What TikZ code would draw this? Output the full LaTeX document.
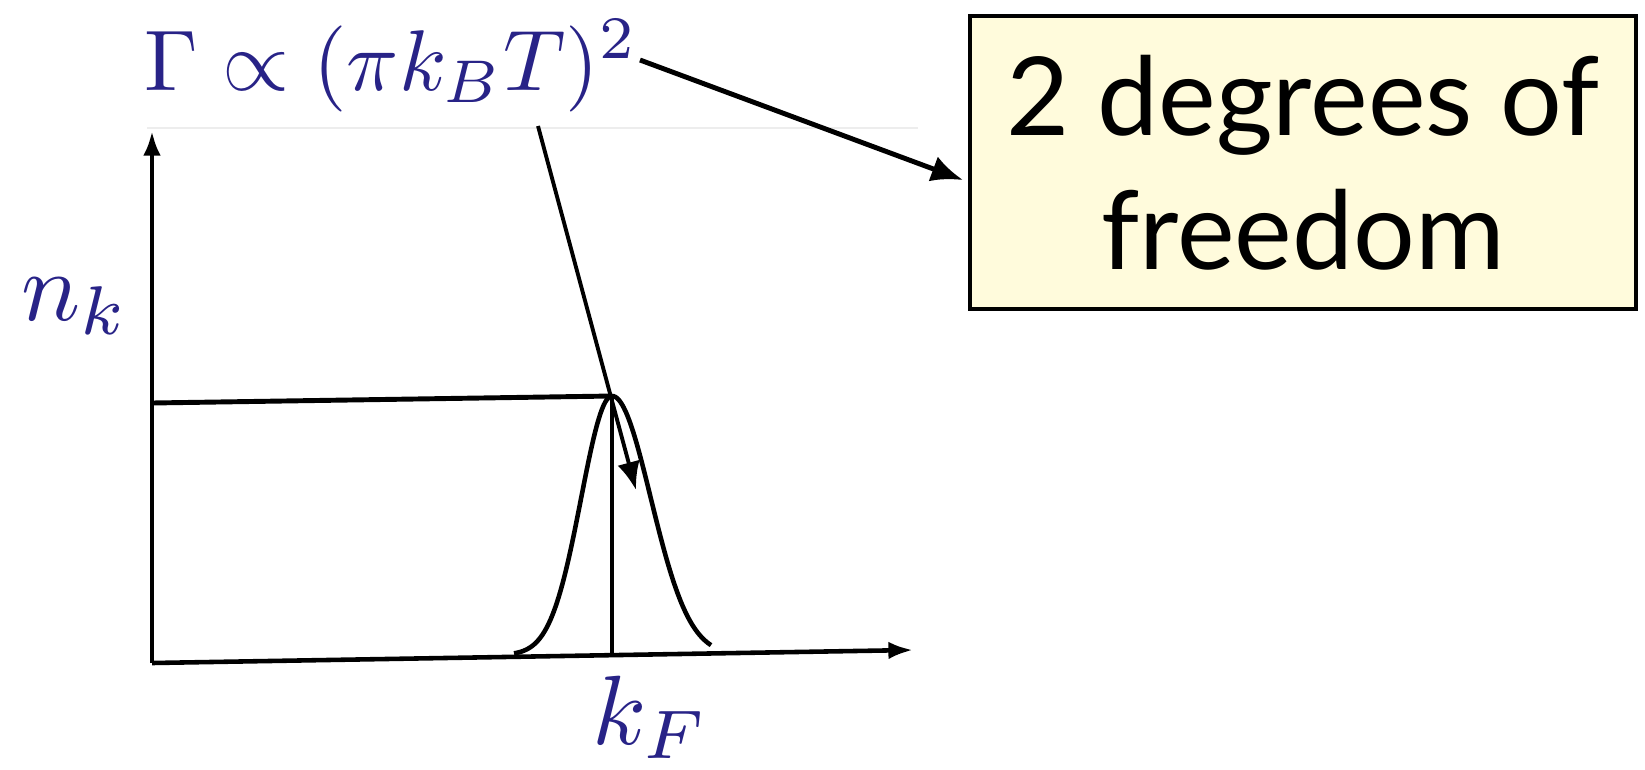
\documentclass[tikz,border=0pt]{standalone}
\usepackage{graphicx}
\usepackage{fontspec}
\newfontfamily\boxfont{Lato}
\usetikzlibrary{arrows.meta}
\definecolor{mblue}{RGB}{40,35,135}
\definecolor{boxfill}{RGB}{255,251,220}
\begin{document}
\begin{tikzpicture}[x=0.01cm,y=-0.01cm,
  axis/.style={line width=1.3pt,-{Latex[length=7pt,width=5pt]}},
  thinline/.style={line width=1.4pt},
  curveline/.style={line width=1.3pt},
  bigarrow/.style={line width=1.4pt,-{Latex[length=9pt,width=7.5pt]}},
  midarrow/.style={line width=1.1pt,-{Latex[length=8pt,width=6.5pt]}},
  mathlbl/.style={text=mblue,inner sep=0pt},
  infobox/.style={draw,fill=boxfill,line width=1.3pt,inner sep=0pt,
    minimum width=6.66cm,minimum height=2.93cm,align=center,
    font=\boxfont\fontsize{31}{38}\selectfont}]
\useasboundingbox (0,0) rectangle (1645,769);
% coordinates
\coordinate (origin) at (152,663);
\coordinate (ytip) at (152,131);
\coordinate (xtip) at (913,650);
\coordinate (hl) at (152,403);
\coordinate (peak) at (612,396);
\coordinate (kfb) at (612,655);
\coordinate (a1s) at (640,60);
\coordinate (a1e) at (963,180);
\coordinate (a2s) at (538,126);
\coordinate (a2e) at (636,490);
\coordinate (fl) at (147,128);
\coordinate (fr) at (918,128);
% faint line
\draw[black!7,line width=0.4pt] (fl) -- (fr);
% labels
\node[mathlbl,anchor=base west] (gam) at (144,90) {\scalebox{2.45}{$\Gamma \propto (\pi k_B T)^2$}};
\node[mathlbl,anchor=base west] (nk) at (21,320) {\scalebox{2.8}{$n_k$}};
\node[mathlbl,anchor=base west] (kf) at (592,744) {\scalebox{2.8}{$k_F$}};
\node[infobox] (box) at (1303,162.5) {2 degrees of\\freedom};
% axes
\draw[axis] (origin) -- (ytip);
\draw[axis] (origin) -- (xtip);
\draw[thinline] (hl) -- (peak);
\draw[line width=1pt] (peak) -- (kfb);
% bell curve
\draw[curveline] plot[domain=514:612,samples=60] (\x,{655-259*exp(-((\x-612)^2)/1900)})
  -- plot[domain=612:711,samples=60] (\x,{655-259*exp(-((\x-612)^2)/3000)});
% arrows
\draw[bigarrow] (a1s) -- (a1e);
\draw[midarrow] (a2s) -- (a2e);
\end{tikzpicture}
\end{document}
